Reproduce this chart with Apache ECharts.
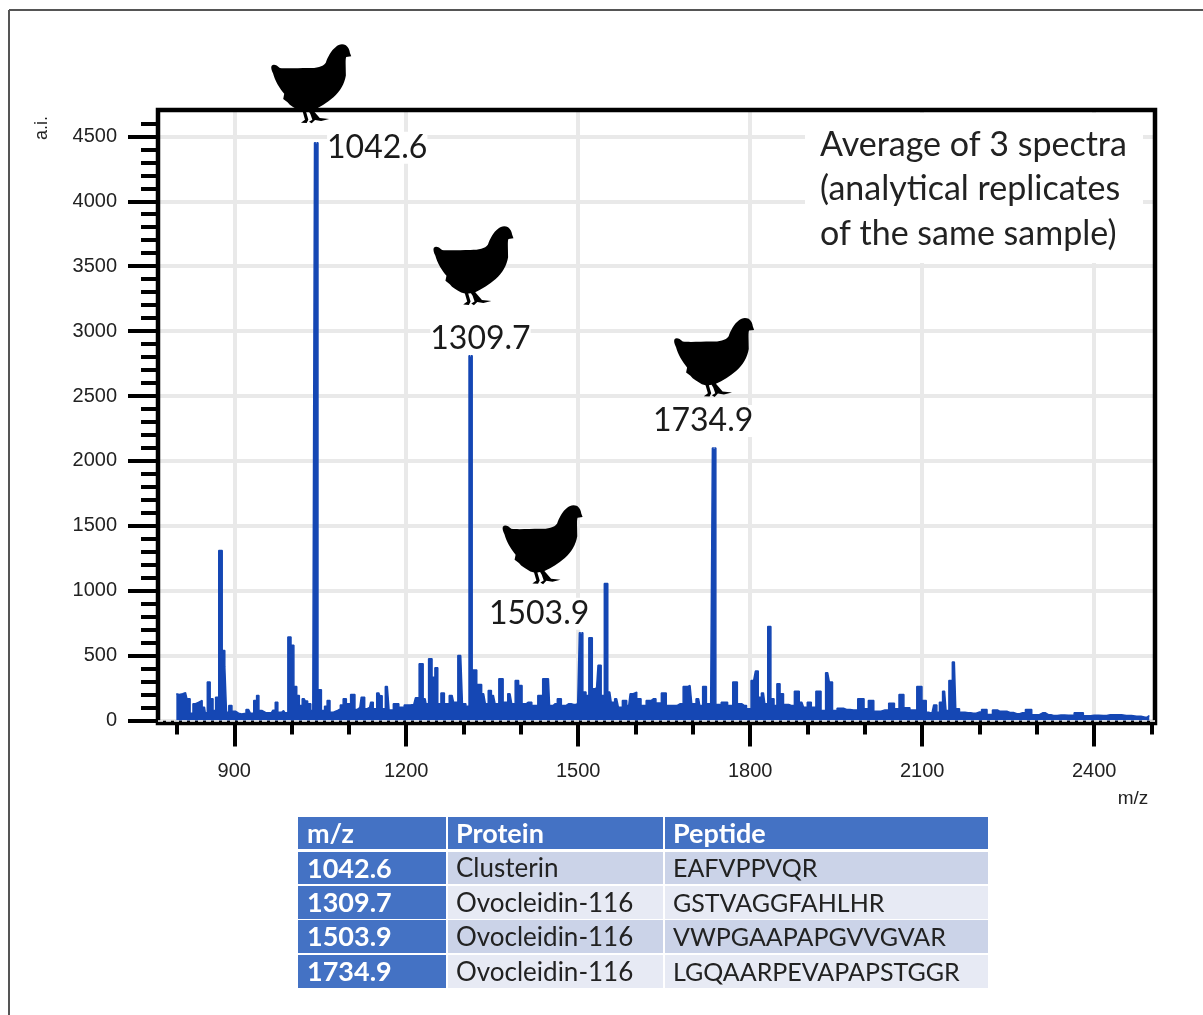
<!DOCTYPE html>
<html>
<head>
<meta charset="utf-8">
<style>html,body{margin:0;padding:0;background:#fff}#c{width:1203px;height:1015px}</style>
<script src="https://cdn.jsdelivr.net/npm/echarts@6/dist/echarts.min.js"></script>
</head>
<body>
<div id="c"></div>
<script>
var mzValues = [799,804,810,815,820,826,830,835,840,848,851,855,861,865,870,876,882,885,888,893,899,905,910,916,925,931,937,941,945,951,958,965,970,973,979,986,991,996,1002,1006,1012,1015,1022,1026,1030,1037,1043,1049,1055,1060,1064,1070,1076,1082,1088,1092,1099,1107,1114,1119,1124,1131,1136,1140,1145,1152,1156,1160,1167,1173,1182,1192,1201,1213,1219,1226,1233,1236,1242,1248,1252,1258,1263,1270,1280,1285,1295,1301,1307,1312,1318,1328,1335,1341,1345,1352,1358,1365,1373,1381,1387,1393,1399,1405,1413,1425,1434,1442,1448,1452,1460,1467,1474,1483,1492,1499,1505,1511,1516,1521,1528,1532,1537,1543,1548,1555,1560,1567,1573,1581,1588,1593,1599,1605,1614,1623,1631,1640,1650,1657,1666,1678,1688,1695,1701,1710,1714,1720,1727,1731,1737,1743,1756,1765,1774,1781,1790,1797,1806,1812,1816,1823,1828,1833,1839,1844,1849,1855,1861,1873,1881,1890,1896,1903,1910,1919,1928,1935,1941,1946,1957,1968,1980,1995,2002,2010,2021,2035,2048,2055,2064,2072,2085,2096,2103,2111,2117,2123,2128,2132,2139,2144,2149,2156,2161,2169,2180,2189,2199,2208,2218,2227,2235,2242,2253,2265,2275,2285,2297,2310,2320,2329,2342,2355,2375,2387,2400,2416,2428,2439,2456,2474,2489,2496];
var intensities = [206,200,206,215,167,57,129,140,154,103,60,296,167,77,180,1310,540,417,64,116,72,57,50,57,85,57,154,193,77,62,60,62,80,141,64,77,59,643,579,262,193,116,167,150,129,77,4450,237,77,110,154,64,75,90,120,167,129,200,85,100,180,90,100,141,90,213,190,90,262,82,129,103,120,123,175,437,167,129,476,334,406,129,213,129,193,141,500,129,110,2810,390,277,206,129,231,193,129,321,141,206,129,309,270,129,141,115,193,321,321,115,130,167,115,129,123,129,677,219,193,638,244,250,425,193,1055,219,141,167,103,154,115,206,219,167,115,154,167,136,213,115,115,129,262,270,129,167,115,262,129,129,2100,123,141,115,296,129,115,90,309,381,180,213,129,725,167,115,283,206,123,115,226,141,103,141,103,226,77,368,296,77,95,85,82,167,90,154,72,82,134,90,200,98,82,262,154,64,57,120,64,141,226,77,309,450,90,64,60,57,65,85,46,82,72,72,62,52,60,85,44,59,45,39,42,40,59,36,40,39,45,44,38,33,26,39];

var xMajorTicks = [900,1200,1500,1800,2100,2400];
var xMinorTicks = [800,1000,1100,1300,1400,1600,1700,1900,2000,2200,2300,2500];
var yMajorTicks = [0,500,1000,1500,2000,2500,3000,3500,4000,4500];
var yMinorTicks = [100,200,300,400,600,700,800,900,1100,1200,1300,1400,1600,1700,1800,1900,2100,2200,2300,2400,2600,2700,2800,2900,3100,3200,3300,3400,3600,3700,3800,3900,4100,4200,4300,4400,4600];

var peakMz = [1043,1312,1505,1737];
var peakHeights = [4450,2810,677,2100];
var peakLabels = ['1042.6','1309.7','1503.9','1734.9'];
var noteLines = ['Average of 3 spectra','(analytical replicates','of the same sample)'];
var tableHeader = ['m/z','Protein','Peptide'];
var tableMz = ['1042.6','1309.7','1503.9','1734.9'];
var tableProtein = ['Clusterin','Ovocleidin-116','Ovocleidin-116','Ovocleidin-116'];
var tablePeptide = ['EAFVPPVQR','GSTVAGGFAHLHR','VWPGAAPAPGVVGVAR','LGQAARPEVAPAPSTGGR'];

var chickenOffsets = [[-5,-59],[3,-90],[-38.5,-88],[0,-90.5]];
var labelOffsets = [[61,5],[10,-17],[-42,-19],[-11,-27]];
var hen = 'path://M400 412 C405 405 415 408 425 418 C445 420 480 418 510 418 C535 418 553 415 562 402 C568 385 578 365 592 355 C600 347 612 345 622 350 C630 356 633 365 634 372 L638 383 L623 385 C620 392 622 410 622 440 C618 465 605 487 585 505 C565 522 545 535 524 544 L544 567 L572 570 L548 576 L530 573 L520 583 L512 578 L522 572 L516 555 L511 547 L503 548 L510 572 L505 582 L488 581 L500 572 L493 548 L482 545 C470 538 455 530 448 520 L435 510 L438 495 C425 480 410 455 405 435 C400 425 398 418 400 412 Z';

var font = 'Lato, "Open Sans", sans-serif';
var axisFont = '"Liberation Sans", Arial, sans-serif';
var xRange = {min:767, max:2506};
var yRange = {min:-19, max:4703};
var gridBox = {left:158, right:48, top:110, bottom:292};

var spectrum = mzValues.map(function(m,i){return [m,intensities[i]];});

var g = [];
g.push({type:'line',shape:{x1:9,y1:10,x2:9,y2:1015},style:{stroke:'#555',lineWidth:2},z:1});
g.push({type:'line',shape:{x1:9,y1:10,x2:1203,y2:10},style:{stroke:'#555',lineWidth:2},z:1});
g.push({type:'rect',shape:{x:805,y:113,width:338,height:150},style:{fill:'#fff'},z:5});
noteLines.forEach(function(t,i){
  g.push({type:'text',x:820,y:145+i*44.5,z:6,style:{text:t,font:'34px '+font,fill:'#222',textVerticalAlign:'middle'}});
});
var cols = [[298,148],[448,215],[665,323]];
var rows = [[817,32],[852,32],[886,33],[920,33],[955,33]];
var textX = [307,456,673];
var bodyFill = ['#cbd3e8','#e7eaf4','#cbd3e8','#e7eaf4'];
rows.forEach(function(r,ri){
  cols.forEach(function(c,ci){
    var fill = (ri===0||ci===0)?'#4472c4':bodyFill[ri-1];
    g.push({type:'rect',shape:{x:c[0],y:r[0],width:c[1],height:r[1]},style:{fill:fill},z:5});
    var txt = ri===0?tableHeader[ci]:[tableMz,tableProtein,tablePeptide][ci][ri-1];
    var bold = ri===0||ci===0;
    var size = bold?27:(ci===2?25:26);
    g.push({type:'text',x:textX[ci],y:r[0]+r[1]/2+1,z:6,style:{text:txt,font:(bold?'bold ':'')+size+'px '+font,fill:bold?'#fff':'#222',textVerticalAlign:'middle'}});
  });
});
var plainNumber = function(v){return String(v);};

var option = {
  animation:false,
  backgroundColor:'#fff',
  grid:{left:gridBox.left,right:gridBox.right,top:gridBox.top,bottom:gridBox.bottom,show:true,borderColor:'#000',borderWidth:4.5,z:3},
  xAxis:[
    {type:'value',min:xRange.min,max:xRange.max,position:'bottom',
     axisLine:{show:false},
     axisTick:{show:true,length:26,customValues:xMajorTicks,lineStyle:{color:'#000',width:4}},
     axisLabel:{show:true,customValues:xMajorTicks,formatter:plainNumber,margin:38,fontSize:20,fontFamily:axisFont,color:'#222'},
     splitLine:{show:true,lineStyle:{color:'#e9e9e9',width:4}}},
    {type:'value',min:xRange.min,max:xRange.max,position:'bottom',
     axisLine:{show:false},
     axisTick:{show:true,length:14,customValues:xMinorTicks,lineStyle:{color:'#000',width:4}},
     axisLabel:{show:false},splitLine:{show:false}}
  ],
  yAxis:[
    {type:'value',min:yRange.min,max:yRange.max,position:'left',
     axisLine:{show:false},
     axisTick:{show:true,length:30,customValues:yMajorTicks,lineStyle:{color:'#000',width:4}},
     axisLabel:{show:true,customValues:yMajorTicks,formatter:plainNumber,margin:41,fontSize:20,fontFamily:axisFont,color:'#222'},
     splitLine:{show:true,lineStyle:{color:'#e9e9e9',width:4}}},
    {type:'value',min:yRange.min,max:yRange.max,position:'left',
     axisLine:{show:false},
     axisTick:{show:true,length:17,customValues:yMinorTicks,lineStyle:{color:'#000',width:4}},
     axisLabel:{show:false},splitLine:{show:false}}
  ],
  series:[
    {name:'Spectrum',type:'line',step:'middle',data:spectrum,symbol:'none',clip:true,z:2,
     lineStyle:{color:'#1547b4',width:1.5},areaStyle:{color:'#1547b4',opacity:1},
     markLine:{silent:true,symbol:'none',label:{show:false},data:[{yAxis:0}],
       lineStyle:{color:'#fff',type:[5,3],width:1.5}}},
    {name:'Hens',type:'scatter',clip:false,z:8,
     data:peakMz.map(function(m,i){return {value:[m,peakHeights[i]],symbolOffset:chickenOffsets[i]};}),
     symbol:hen,symbolSize:[80,79],itemStyle:{color:'#000',opacity:1},silent:true},
    {name:'Peak labels',type:'scatter',clip:false,z:7,
     data:peakMz.map(function(m,i){return {value:[m,peakHeights[i]],
       label:{offset:labelOffsets[i]}};}),
     label:{show:true,formatter:function(p){return '{t|'+peakLabels[p.dataIndex]+'}';},
       position:[0.5,0.5],align:'center',verticalAlign:'middle',backgroundColor:'#fff',
       rich:{t:{fontFamily:font,fontSize:32,color:'#1a1a1a',opacity:1}}},
     symbolSize:1,itemStyle:{color:'#fff',opacity:1},silent:true}
  ],
  graphic:[{type:'group',silent:true,children:g.concat([
    {type:'text',x:1133,y:799,z:6,style:{text:'m/z',font:'19px '+axisFont,fill:'#222',textAlign:'center',textVerticalAlign:'middle'}},
    {type:'text',x:42,y:128,rotation:Math.PI/2,z:6,style:{text:'a.i.',font:'18px '+axisFont,fill:'#222',textAlign:'center',textVerticalAlign:'middle'}}
  ])}]
};
var chart = echarts.init(document.getElementById('c'),null,{renderer:'canvas'});
chart.setOption(option);
</script>
</body>
</html>
